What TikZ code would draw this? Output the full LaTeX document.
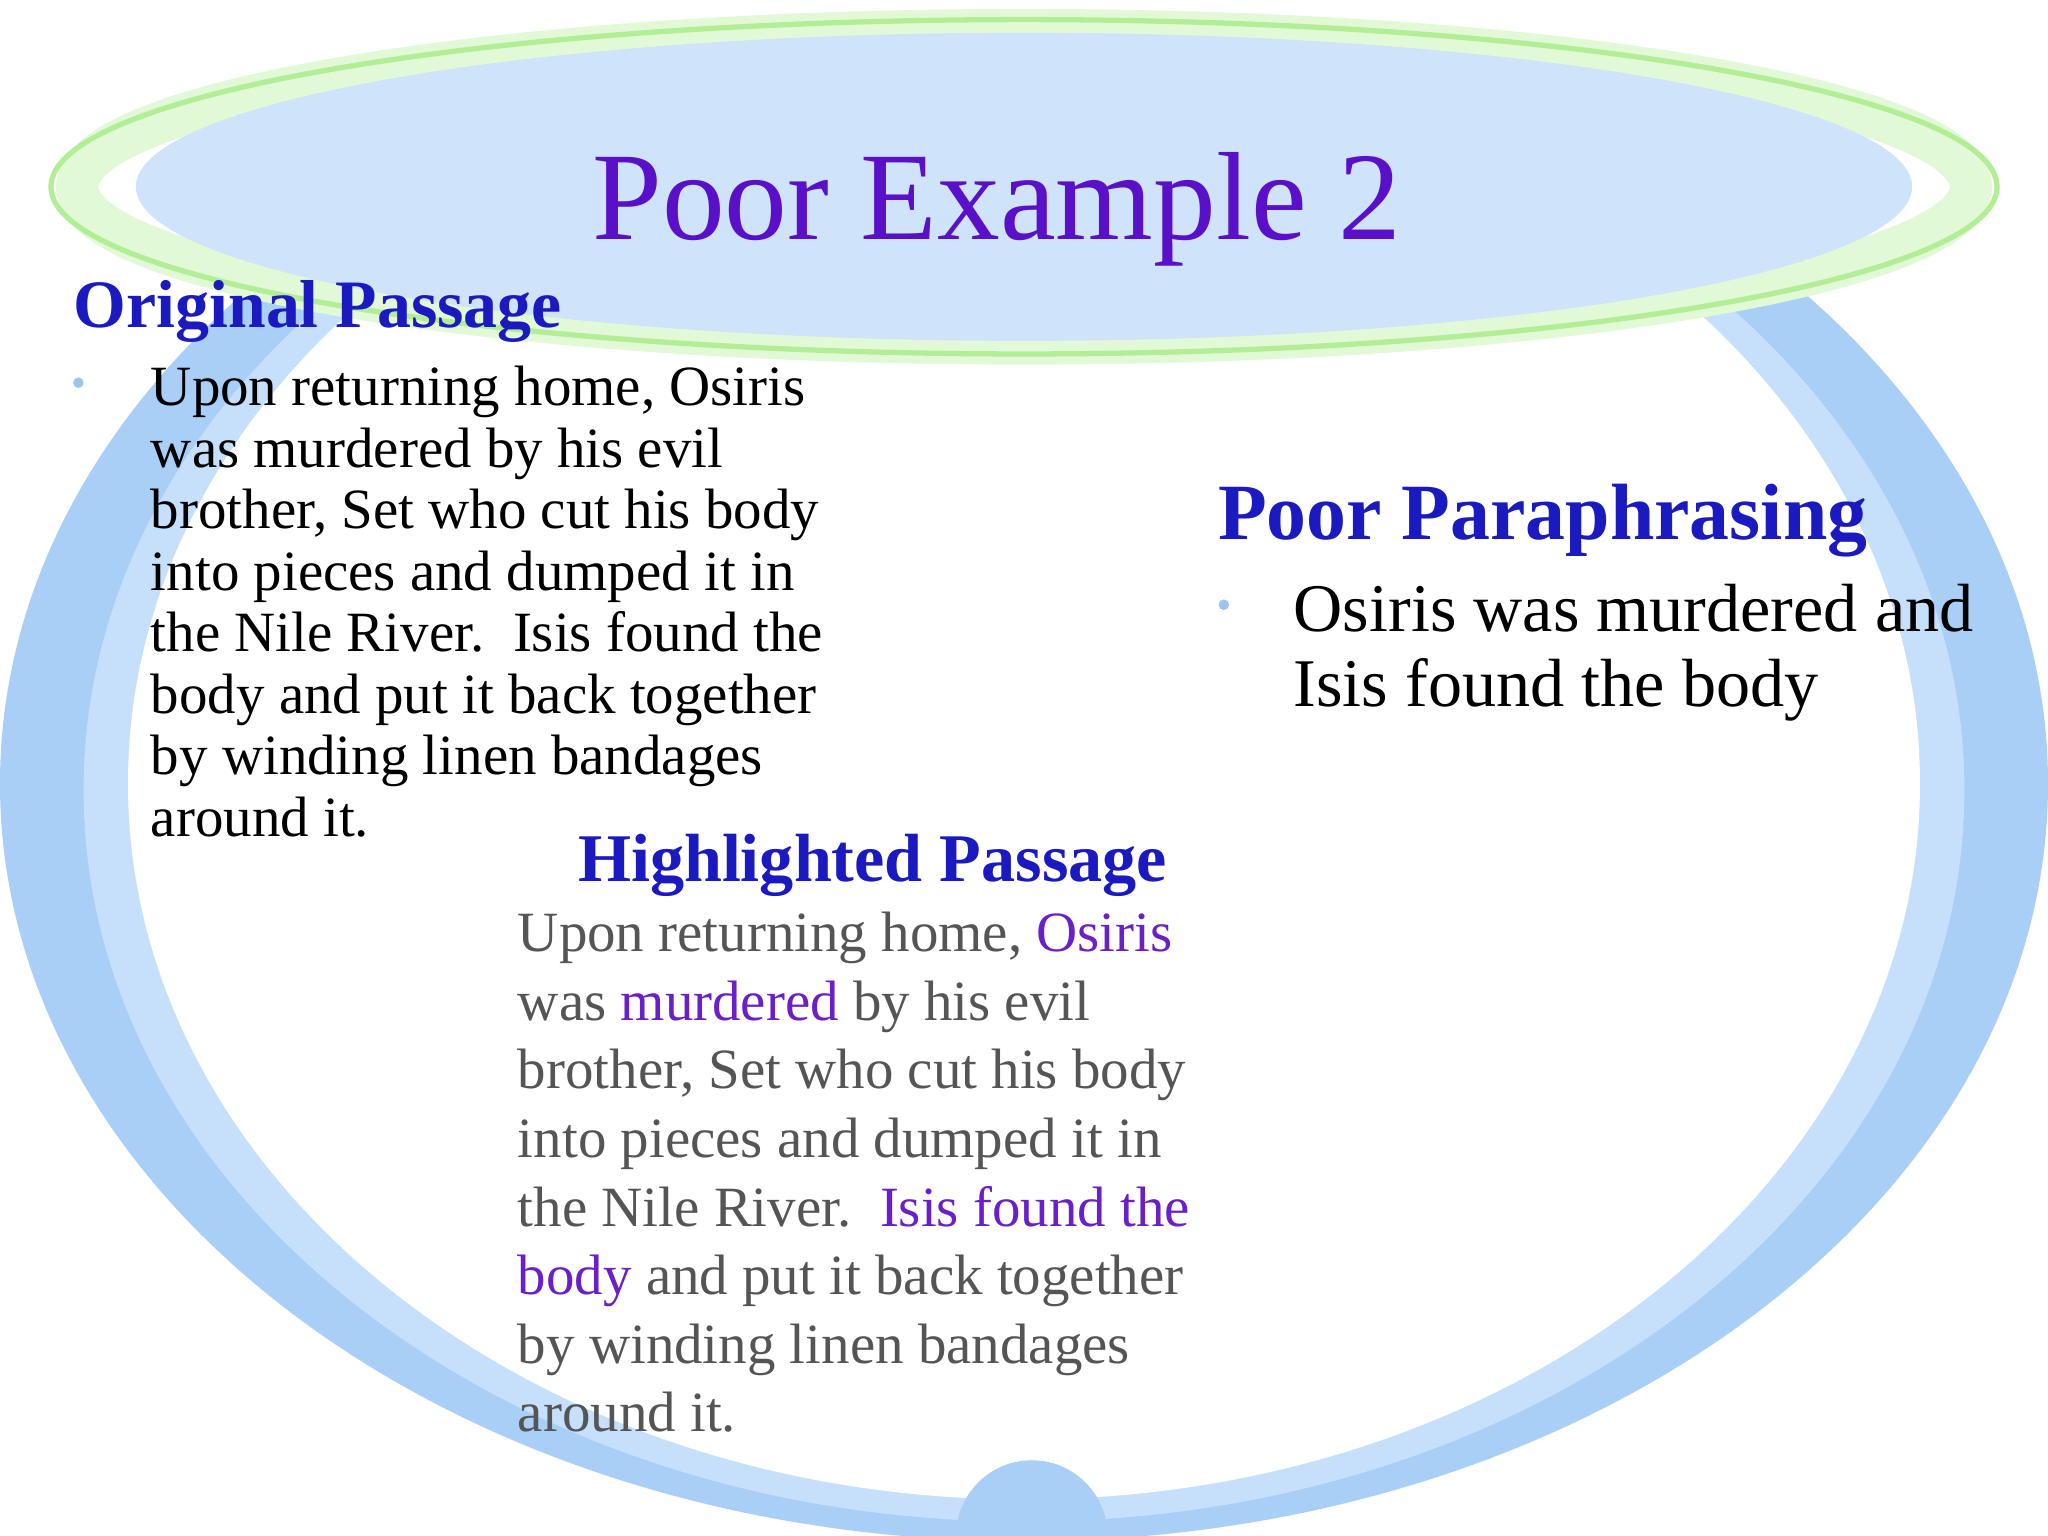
\documentclass[tikz,border=0pt]{standalone}
\usepackage{fontspec}
\setmainfont{Liberation Serif}
\begin{document}
\begin{tikzpicture}[x=0.01306cm,y=-0.01306cm,
  head/.style={anchor=base west,inner sep=0,text=headblue},
  body/.style={anchor=north west,inner sep=0,align=left},
  dot/.style={circle,fill=bluedot,inner sep=0,minimum size=3pt}]
\definecolor{ringblue}{HTML}{A9CFF7}
\definecolor{ringmid}{HTML}{C6DFFA}
\definecolor{titleblue}{HTML}{CFE4FA}
\definecolor{ringgreen}{HTML}{9EEA7A}
\definecolor{titlepurple}{HTML}{5A0FC8}
\definecolor{headblue}{HTML}{1A1AC0}
\definecolor{hlpurple}{HTML}{6A1FC8}
\definecolor{bluedot}{HTML}{9CC4EE}
\definecolor{graytext}{HTML}{555555}
\useasboundingbox (0,0) rectangle (1568,1176);
\fill[white] (0,0) rectangle (1568,1176);
% bowl ring
\begin{scope}
\clip (0,0) rectangle (1568,1176);
\fill[ringblue] (784,600) ellipse [x radius=784,y radius=580];
\fill[ringmid] (784,605) ellipse [x radius=720,y radius=560];
\fill[white] (784,600) ellipse [x radius=686,y radius=548];
\fill[ringblue] (790,1176) circle [radius=58];
\end{scope}
% title ellipse
\fill[white] (784,143) ellipse [x radius=745,y radius=128];
\draw[ringgreen!30,line width=12pt] (784,143) ellipse [x radius=725,y radius=120];
\draw[ringgreen!80,line width=1.5pt] (784,143) ellipse [x radius=745,y radius=128];
\fill[titleblue] (784,143) ellipse [x radius=680,y radius=118];
\node[anchor=base,inner sep=0,text=titlepurple,font=\fontsize{35.7}{42}\selectfont] (title) at (763,183) {Poor Example 2};
% original passage
\node[head,font=\bfseries\fontsize{19.3}{23}\selectfont] (h1) at (56,251) {Original Passage};
\node[dot] (d1) at (60,293) {};
\node[body,font=\fontsize{16.2}{17.5}\selectfont] (b1) at (115,280) {Upon returning home, Osiris\\was murdered by his evil\\brother, Set who cut his body\\into pieces and dumped it in\\the Nile River.\ \ Isis found the\\body and put it back together\\by winding linen bandages\\around it.};
% poor paraphrasing
\node[head,font=\bfseries\fontsize{22.7}{27}\selectfont] (h2) at (932,413) {Poor Paraphrasing};
\node[dot] (d2) at (937,463) {};
\node[body,font=\fontsize{19.4}{21.2}\selectfont] (b2) at (990,447) {Osiris was murdered and\\Isis found the body};
% highlighted
\node[head,font=\bfseries\fontsize{19.4}{23}\selectfont] (h3) at (442,675) {Highlighted Passage};
\node[body,text=graytext,font=\fontsize{16.2}{19.5}\selectfont] (b3) at (396,698) {Upon returning home, \textcolor{hlpurple}{Osiris}\\was \textcolor{hlpurple}{murdered} by his evil\\brother, Set who cut his body\\into pieces and dumped it in\\the Nile River.\ \ \textcolor{hlpurple}{Isis found the}\\\textcolor{hlpurple}{body} and put it back together\\by winding linen bandages\\around it.};
\end{tikzpicture}
\end{document}
